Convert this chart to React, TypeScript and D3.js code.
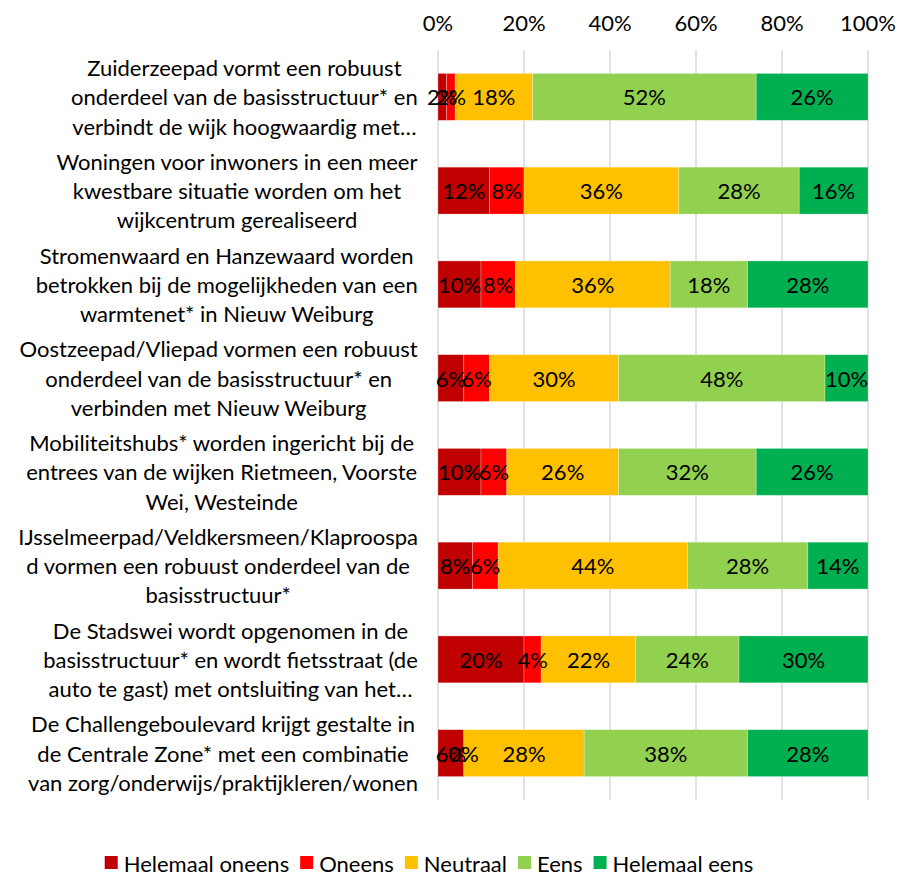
import React, { useMemo } from "react";
import * as d3 from "d3";

const categories: string[][] = [
  ["Zuiderzeepad vormt een robuust", "onderdeel van de basisstructuur* en", "verbindt de wijk hoogwaardig met…"],
  ["Woningen voor inwoners in een meer", "kwestbare situatie worden om het", "wijkcentrum gerealiseerd"],
  ["Stromenwaard en Hanzewaard worden", "betrokken bij de mogelijkheden van een", "warmtenet* in Nieuw Weiburg"],
  ["Oostzeepad/Vliepad vormen een robuust", "onderdeel van de basisstructuur* en", "verbinden met Nieuw Weiburg"],
  ["Mobiliteitshubs* worden ingericht bij de", "entrees van de wijken Rietmeen, Voorste", "Wei, Westeinde"],
  ["IJsselmeerpad/Veldkersmeen/Klaproospa", "d vormen een robuust onderdeel van de", "basisstructuur*"],
  ["De Stadswei wordt opgenomen in de", "basisstructuur* en wordt fietsstraat (de", "auto te gast) met ontsluiting van het…"],
  ["De Challengeboulevard krijgt gestalte in", "de Centrale Zone* met een combinatie", "van zorg/onderwijs/praktijkleren/wonen"],
];

const seriesNames = ["Helemaal oneens", "Oneens", "Neutraal", "Eens", "Helemaal eens"];
const seriesColors = ["#C00000", "#FF0000", "#FFC000", "#92D050", "#00B050"];

const helemaalOneens = [2, 12, 10, 6, 10, 8, 20, 6];
const oneens = [2, 8, 8, 6, 6, 6, 4, 0];
const neutraal = [18, 36, 36, 30, 26, 44, 22, 28];
const eens = [52, 28, 18, 48, 32, 28, 24, 38];
const helemaalEens = [26, 16, 28, 10, 26, 14, 30, 28];

const tickValues = [0, 20, 40, 60, 80, 100];

const FONT = "Lato, 'Open Sans', sans-serif";
const FS = 22;

function measure(text: string, size: number): number {
  const c = document.createElement("canvas");
  const ctx = c.getContext("2d")!;
  ctx.font = `${size}px Lato`;
  return ctx.measureText(text).width;
}

export default function App() {
  const W = 903;
  const H = 876;
  const x = d3.scaleLinear().domain([0, 100]).range([438, 868]);
  const y = d3
    .scaleBand<number>()
    .domain(d3.range(categories.length))
    .range([50, 800])
    .paddingInner(0.5)
    .paddingOuter(0.25);

  const series = [helemaalOneens, oneens, neutraal, eens, helemaalEens];
  const rows = categories.map((_, i) => {
    const obj: Record<string, number> = {};
    seriesNames.forEach((n, k) => (obj[n] = series[k][i]));
    return obj;
  });
  const stacked = d3.stack<Record<string, number>>().keys(seriesNames)(rows);

  const labelRight = 418;
  const lineH = 29.3;

  const legendItems = useMemo(() => {
    const sq = 13;
    const gapText = 6;
    const gapItem = 11;
    const widths = seriesNames.map((n) => measure(n, FS));
    const total = widths.reduce((a, w) => a + sq + gapText + w, 0) + gapItem * (seriesNames.length - 1);
    let cx = 429 - total / 2;
    return seriesNames.map((n, i) => {
      const item = { name: n, color: seriesColors[i], x: cx, tx: cx + sq + gapText };
      cx += sq + gapText + widths[i] + gapItem;
      return item;
    });
  }, []);

  return (
    <svg width={W} height={H} style={{ position: "absolute", left: 0, top: 0, background: "#fff" }} fontFamily={FONT}>
      {tickValues.map((t) => (
        <g key={t}>
          <line x1={x(t)} x2={x(t)} y1={50} y2={800} stroke="#D9D9D9" strokeWidth={1.5} />
          <text x={x(t)} y={22} textAnchor="middle" dominantBaseline="central" fontSize={FS} fill="#000">
            {t}%
          </text>
        </g>
      ))}
      {stacked.map((s, k) => (
        <g key={s.key}>
          {s.map((d, i) => (
            <rect
              key={i}
              x={x(d[0])}
              y={y(i)!}
              width={Math.max(0, x(d[1]) - x(d[0]))}
              height={y.bandwidth()}
              fill={seriesColors[k]}
              stroke="#fff"
              strokeOpacity={0.35}
              strokeWidth={0.75}
            />
          ))}
        </g>
      ))}
      {stacked.map((s, k) => (
        <g key={"l" + s.key}>
          {s.map((d, i) => (
            <text
              key={i}
              x={(x(d[0]) + x(d[1])) / 2}
              y={y(i)! + y.bandwidth() / 2}
              textAnchor="middle"
              dominantBaseline="central"
              fontSize={FS}
              fill="#000"
            >
              {d[1] - d[0]}%
            </text>
          ))}
        </g>
      ))}
      {categories.map((lines, i) => {
        const maxW = Math.max(...lines.map((l) => measure(l, FS)));
        const cx = labelRight - maxW / 2;
        const cy = y(i)! + y.bandwidth() / 2;
        return (
          <g key={"c" + i}>
            {lines.map((l, j) => (
              <text
                key={j}
                x={cx}
                y={cy + (j - (lines.length - 1) / 2) * lineH}
                textAnchor="middle"
                dominantBaseline="central"
                fontSize={FS}
                fill="#000"
              >
                {l}
              </text>
            ))}
          </g>
        );
      })}
      {legendItems.map((it) => (
        <g key={it.name}>
          <rect x={it.x} y={856} width={13} height={13} fill={it.color} />
          <text x={it.tx} y={863} dominantBaseline="central" fontSize={FS} fill="#000">
            {it.name}
          </text>
        </g>
      ))}
    </svg>
  );
}
